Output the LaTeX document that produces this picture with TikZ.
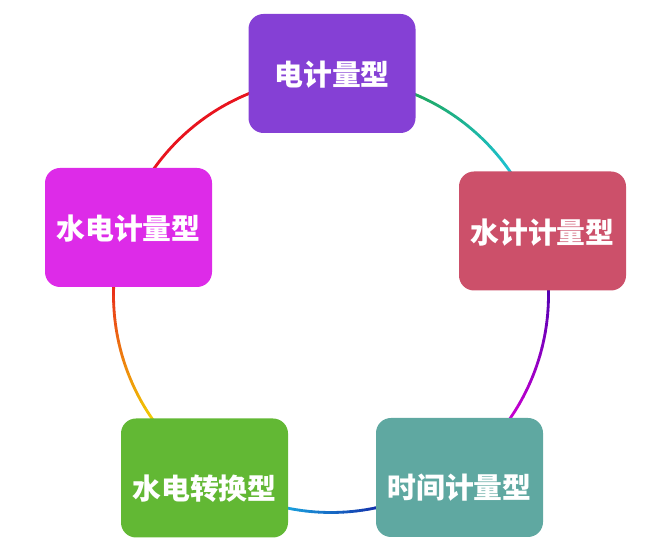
\documentclass[tikz,border=0pt]{standalone}
\usepackage{fontspec}
\newfontfamily\cjk{Noto Sans CJK SC}
\usetikzlibrary{calc}

\definecolor{boxpurple}{HTML}{8540D5}
\definecolor{boxrose}{HTML}{CC506A}
\definecolor{boxmagenta}{HTML}{DD2BE8}
\definecolor{boxgreen}{HTML}{62B834}
\definecolor{boxteal}{HTML}{5FA8A1}
\definecolor{arcred}{HTML}{E8141E}
\definecolor{arcyellow}{HTML}{F2E600}
\definecolor{arccyan}{HTML}{1CC8F0}
\definecolor{arcblue}{HTML}{12129C}
\definecolor{arcmagenta}{HTML}{E000D6}
\definecolor{arcindigo}{HTML}{4800B0}
\definecolor{arcgreen}{HTML}{20A244}

\tikzset{
	box/.style={draw=none, rounded corners=0.15cm, minimum width=1.67cm, minimum height=1.19cm, inner sep=0pt, text=white, text height=0.8em, text depth=0.1em, font=\cjk\bfseries\fontsize{8.2pt}{9pt}\selectfont},
	lowbox/.style={box, text height=1.3em},
	ring/.style={line width=0.8pt, line cap=round}
}

\def\rad{2.175}
\def\gradarc(#1:#2)[#3:#4]{\foreach \i in {0,...,23}{\pgfmathsetmacro\ta{#1+(#2-#1)*\i/24}\pgfmathsetmacro\tb{#1+(#2-#1)*(\i+1)/24}\pgfmathtruncatemacro\p{100-\i*100/23}\draw[ring, color=#3!\p!#4, shift={(ctr)}] (\ta:\rad) arc (\ta:\tb:\rad);}}

\begin{document}
\begin{tikzpicture}
			%%%%% START %%%%%
			\useasboundingbox (0, 0) rectangle (6.55, 5.46);
			\coordinate (ctr) at (3.31, 2.51);
			
			% ring between the boxes
			\gradarc(104:152)[arcred:arcred];
			\gradarc(172:222)[arcred:arcyellow];
			\gradarc(250:290)[arccyan:arcblue];
			\gradarc(318:366)[arcmagenta:arcindigo];
			\gradarc(26:76)[arccyan:arcgreen];
			
			% boxes
			\node[box, fill=boxpurple] (dian) at (3.32, 4.725) {电计量型};
			\node[box, fill=boxrose] (shui) at (5.425, 3.15) {水计计量型};
			\node[lowbox, fill=boxteal] (shijian) at (4.595, 0.685) {时间计量型};
			\node[lowbox, fill=boxgreen] (zhuanhuan) at (2.045, 0.68) {水电转换型};
			\node[box, fill=boxmagenta] (shuidian) at (1.285, 3.185) {水电计量型};
			
			%%%%% END %%%%%
\end{tikzpicture}
\end{document}
